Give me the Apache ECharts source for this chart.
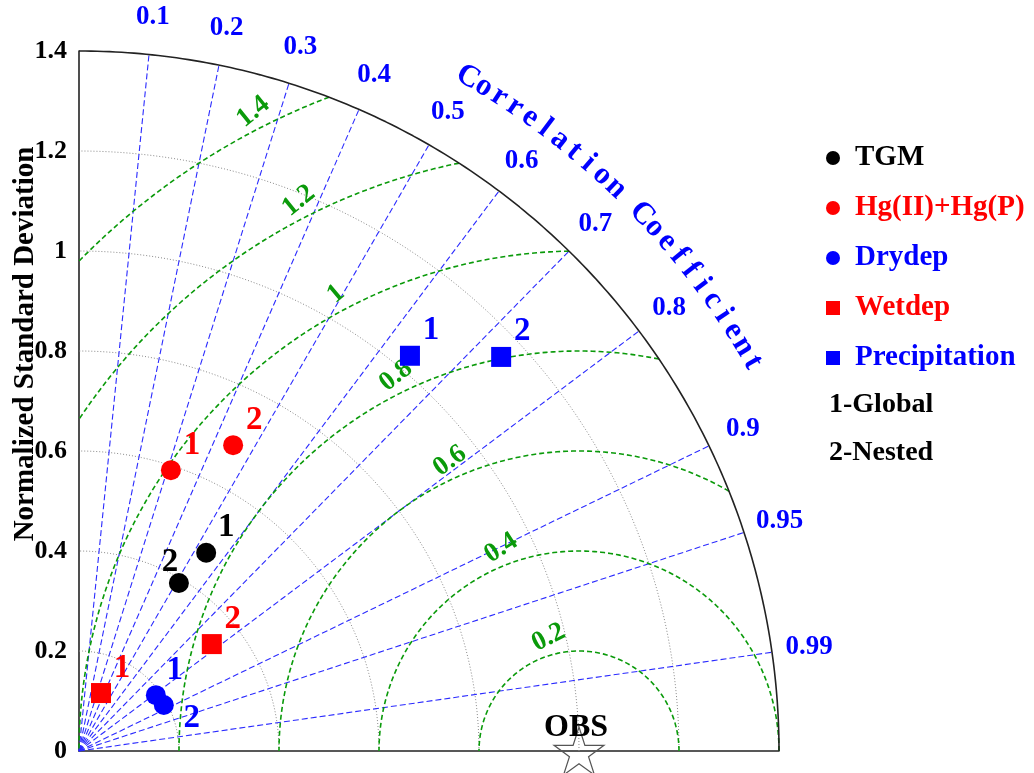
<!DOCTYPE html>
<html>
<head>
<meta charset="utf-8">
<script src="https://cdn.jsdelivr.net/npm/echarts@6/dist/echarts.min.js"></script>
<style>
html,body{margin:0;padding:0;background:#fff;}
#main{width:1034px;height:773px;}
</style>
</head>
<body>
<div id="main"></div>
<script>
// 数据: 归一化标准差 + 相关系数 (1-Global, 2-Nested)
var models = ['1', '2'];
var tgmStd = [0.471, 0.391],  tgmCorr = [0.540, 0.511];
var hgStd  = [0.591, 0.685],  hgCorr  = [0.311, 0.450];
var dryStd = [0.190, 0.193],  dryCorr = [0.809, 0.879];
var wetStd = [0.124, 0.341],  wetCorr = [0.355, 0.779];
var preStd = [1.031, 1.155],  preCorr = [0.642, 0.731];

// 刻度
var stdTicks  = [0.2, 0.4, 0.6, 0.8, 1, 1.2];
var corrTicks = [0.1, 0.2, 0.3, 0.4, 0.5, 0.6, 0.7, 0.8, 0.9, 0.95, 0.99];
var rmsTicks  = [0.2, 0.4, 0.6, 0.8, 1, 1.2, 1.4];
var stdMax = 1.4;
var corrTitle = 'Correlation Coefficient';

var SERIF = '"Liberation Serif", "Times New Roman", serif';
var D2R = Math.PI / 180;

function toXY(s, c) {
    return [s * c, s * Math.sqrt(Math.max(0, 1 - c * c))];
}
function points(std, corr) {
    var out = [];
    for (var i = 0; i < std.length; i++) {
        var p = toXY(std[i], corr[i]);
        out.push({ value: p, name: models[i] });
    }
    return out;
}
// 标签偏移 (布局)
var labelOffset = {
    'TGM': [[20, -25], [-9, -20]],
    'Drydep': [[19, -25], [28, 13]]
};
function scatter(name, symbol, color, std, corr) {
    var data = points(std, corr);
    data.forEach(function (d, i) {
        var off = (labelOffset[name] && labelOffset[name][i]) || [21, -25];
        d.label = { offset: off };
    });
    return {
        name: name,
        type: 'scatter',
        symbol: symbol,
        symbolSize: 20,
        clip: false,
        z: 10,
        itemStyle: { color: color, opacity: 1 },
        label: {
            show: true,
            position: 'inside',
            formatter: '{b}',
            color: color,
            fontFamily: SERIF,
            fontWeight: 'bold',
            fontSize: 33
        },
        data: data
    };
}
function lineSeries(data, style, z) {
    return {
        type: 'line',
        data: data,
        showSymbol: false,
        silent: true,
        clip: false,
        z: z,
        lineStyle: style
    };
}
// 只显示文字的散点
function textSeries(data, color, size) {
    return {
        type: 'scatter', silent: true, clip: false, symbolSize: 1, z: 5,
        itemStyle: { color: 'rgba(0,0,0,0)', opacity: 1 },
        label: {
            show: true, position: 'inside', formatter: '{b}',
            color: color, fontFamily: SERIF, fontWeight: 'bold', fontSize: size
        },
        data: data
    };
}

var series = [];

// 灰色标准差圆弧
stdTicks.forEach(function (r) {
    var d = [];
    for (var a = 0; a <= 90; a += 1) d.push([r * Math.cos(a * D2R), r * Math.sin(a * D2R)]);
    series.push(lineSeries(d, { color: '#8a8a8a', width: 1, type: [1, 2] }, 1));
});
// 蓝色相关系数射线
corrTicks.forEach(function (c) {
    series.push(lineSeries([[0, 0], toXY(stdMax, c)], { color: '#2b2bff', width: 1.1, type: [6, 3] }, 2));
});
// 绿色 RMS 圆弧 (以 OBS 为中心)
rmsTicks.forEach(function (R) {
    var k = (stdMax * stdMax - 1 - R * R) / (2 * R);
    var aMin = k >= 1 ? 0 : Math.acos(Math.max(-1, k)) / D2R;
    var aMax = R > 1 ? Math.acos(-1 / R) / D2R : 180;
    var d = [];
    var n = 200;
    for (var i = 0; i <= n; i++) {
        var a = (aMin + (aMax - aMin) * i / n) * D2R;
        d.push([1 + R * Math.cos(a), R * Math.sin(a)]);
    }
    series.push(lineSeries(d, { color: '#0a9a0a', width: 1.6, type: [5, 3] }, 3));
});
// 外圈
(function () {
    var d = [];
    for (var a = 0; a <= 90; a += 0.5) d.push([stdMax * Math.cos(a * D2R), stdMax * Math.sin(a * D2R)]);
    series.push(lineSeries(d, { color: '#222', width: 1.6, type: 'solid' }, 4));
})();

// 相关系数标签
series.push(textSeries(corrTicks.map(function (c) {
    return { name: String(c), value: toXY(1.475, c) };
}), '#0000ff', 27));

// "Correlation Coefficient" 弧形文字
series.push(textSeries(corrTitle.split('').map(function (ch, i) {
    var a = 60 - i * 1.364;
    return {
        name: ch,
        value: [1.556 * Math.cos(a * D2R), 1.556 * Math.sin(a * D2R)],
        label: { rotate: a - 90 }
    };
}), '#0000ff', 31));

// RMS 标签
var rmsLabelAngle = [105, 111, 114, 116, 118, 117, 117];
series.push(textSeries(rmsTicks.map(function (R, i) {
    var a = rmsLabelAngle[i];
    var rr = R + 0.035;
    return {
        name: String(R),
        value: [1 + rr * Math.cos(a * D2R), rr * Math.sin(a * D2R)],
        label: { rotate: a - 90 + 12 }
    };
}), '#0a9a0a', 27));

// OBS
series.push({
    type: 'scatter', silent: true, clip: false, z: 6,
    symbol: 'path://M0,-10 L2.245,-3.09 L9.51,-3.09 L3.633,1.18 L5.88,8.09 L0,3.82 L-5.88,8.09 L-3.633,1.18 L-9.51,-3.09 L-2.245,-3.09 Z',
    symbolSize: [50, 48],
    itemStyle: { color: 'rgba(255,255,255,0)', borderColor: '#555', borderWidth: 1.2, opacity: 1 },
    label: {
        show: true, position: 'inside', formatter: 'OBS', offset: [-3, -23],
        color: '#000', fontFamily: SERIF, fontWeight: 'bold', fontSize: 32
    },
    data: [[1, 0]]
});

// 数据点
series.push(scatter('TGM', 'circle', '#000000', tgmStd, tgmCorr));
series.push(scatter('Hg(II)+Hg(P)', 'circle', '#ff0000', hgStd, hgCorr));
series.push(scatter('Drydep', 'circle', '#0000ff', dryStd, dryCorr));
series.push(scatter('Wetdep', 'rect', '#ff0000', wetStd, wetCorr));
series.push(scatter('Precipitation', 'rect', '#0000ff', preStd, preCorr));

var option = {
    animation: false,
    backgroundColor: '#fff',
    grid: { left: 79, top: 51, width: 700, height: 700, outerBoundsMode: 'none' },
    xAxis: {
        type: 'value', min: 0, max: stdMax,
        axisLine: { show: true, lineStyle: { color: '#222', width: 1.6 } },
        axisTick: { show: false },
        axisLabel: { show: false },
        splitLine: { show: false }
    },
    yAxis: {
        type: 'value', min: 0, max: stdMax, interval: 0.2,
        axisLine: { show: true, lineStyle: { color: '#222', width: 1.6 } },
        axisTick: { show: false },
        splitLine: { show: false },
        axisLabel: {
            color: '#000', fontFamily: SERIF, fontWeight: 'bold', fontSize: 26, margin: 12
        }
    },
    legend: {
        orient: 'vertical',
        left: 821,
        top: 138,
        itemGap: 20,
        itemWidth: 14,
        itemHeight: 14,
        selectedMode: false,
        textStyle: {
            fontFamily: SERIF, fontWeight: 'bold', fontSize: 29, lineHeight: 30,
            padding: [0, 0, 0, 10]
        },
        data: [
            { name: 'TGM', textStyle: { color: '#000' } },
            { name: 'Hg(II)+Hg(P)', textStyle: { color: '#ff0000' } },
            { name: 'Drydep', textStyle: { color: '#0000ff' } },
            { name: 'Wetdep', textStyle: { color: '#ff0000' } },
            { name: 'Precipitation', textStyle: { color: '#0000ff' } }
        ]
    },
    graphic: [
        {
            type: 'text', x: 26, y: 344, rotation: Math.PI / 2,
            style: {
                text: 'Normalized Standard Deviation', fill: '#000',
                font: 'bold 29px ' + SERIF, align: 'center', verticalAlign: 'middle'
            }
        },
        {
            type: 'text', x: 829, y: 405,
            style: { text: '1-Global', fill: '#000', font: 'bold 28px ' + SERIF, verticalAlign: 'middle' }
        },
        {
            type: 'text', x: 829, y: 453,
            style: { text: '2-Nested', fill: '#000', font: 'bold 28px ' + SERIF, verticalAlign: 'middle' }
        }
    ],
    series: series
};

var myChart = echarts.init(document.getElementById('main'));
myChart.setOption(option);
</script>
</body>
</html>
